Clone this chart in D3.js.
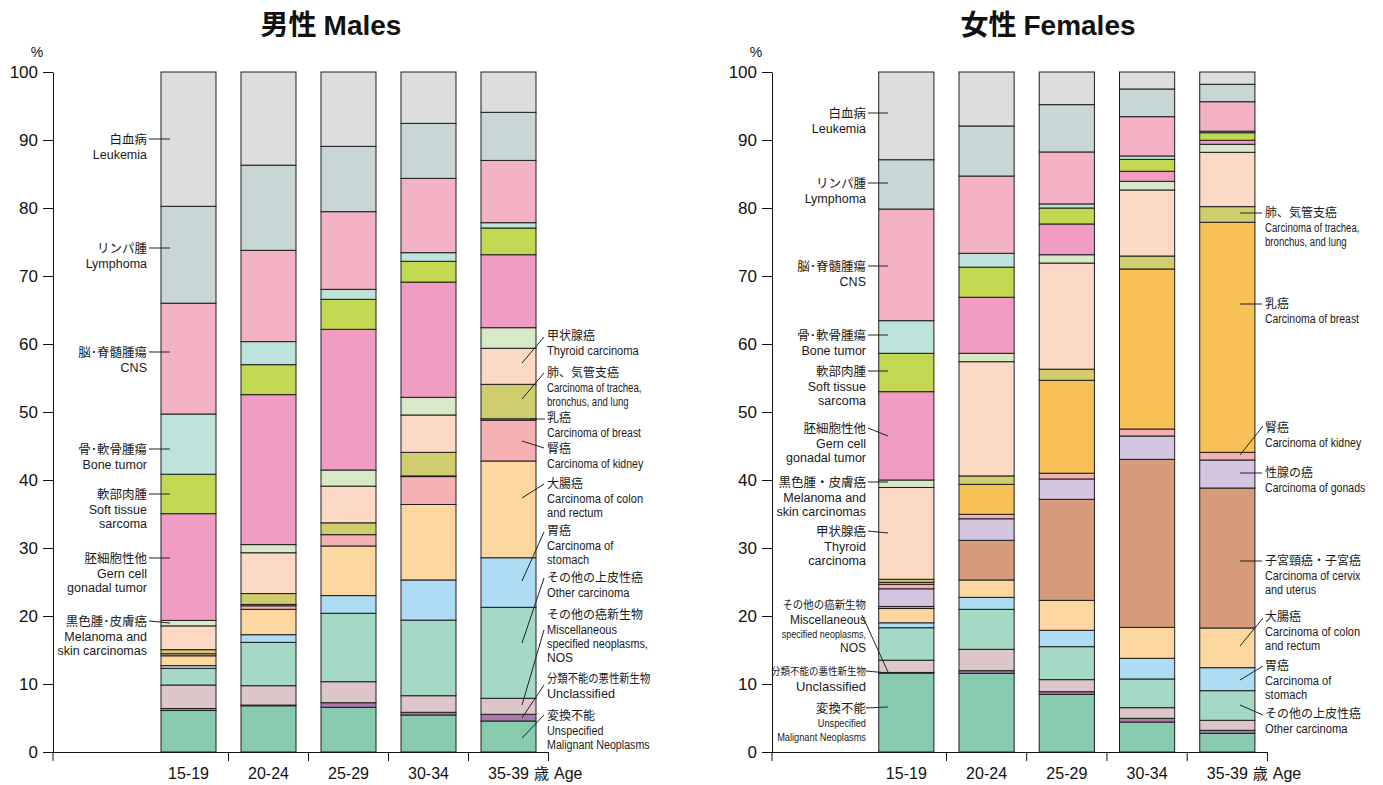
<!DOCTYPE html>
<html><head><meta charset="utf-8">
<script src="https://cdn.jsdelivr.net/npm/d3@7"></script>
<style>body{margin:0;background:#fff}svg{display:block}</style>
</head><body>
<svg id="chart" width="1383" height="785"></svg>
<script>
// ---------- DATA ----------
const categories = ["15-19", "20-24", "25-29", "30-34", "35-39"];
const yTickValues = [0, 10, 20, 30, 40, 50, 60, 70, 80, 90, 100];

// Males (% of cases, stacked bottom -> top)
const maleUnspecified     = [6.1, 6.8, 6.57, 5.44, 4.56];
const maleUnclassified    = [0.3, 0.1, 0.68, 0.4, 0.98];
const maleMisc            = [3.45, 2.85, 3.09, 2.44, 2.36];
const maleOtherCarcinoma  = [2.45, 6.38, 10.06, 11.12, 13.38];
const maleStomach         = [0.4, 1.12, 2.6, 5.9, 7.29];
const maleColon           = [1.45, 3.73, 7.3, 11.1, 14.23];
const maleKidney          = [0.3, 0.52, 1.66, 4.1, 6.0];
const maleBreast          = [0, 0.2, 0, 0.1, 0.2];
const maleLung            = [0.6, 1.6, 1.74, 3.47, 5.07];
const maleThyroid         = [3.5, 6.0, 5.4, 5.49, 5.3];
const maleMelanoma        = [0.8, 1.2, 2.37, 2.6, 3.03];
const maleGermCell        = [15.7, 22.05, 20.69, 16.94, 10.73];
const maleSoftTissue      = [5.8, 4.41, 4.41, 3.06, 3.93];
const maleBone            = [8.85, 3.39, 1.47, 1.27, 0.78];
const maleCNS             = [16.3, 13.43, 11.42, 10.93, 9.16];
const maleLymphoma        = [14.25, 12.52, 9.61, 8.09, 7.07];
const maleLeukemia        = [19.75, 13.7, 10.93, 7.55, 5.93];

// Females
const femaleUnspecified    = [11.6, 11.57, 8.48, 4.41, 2.75];
const femaleUnclassified   = [0.1, 0.39, 0.39, 0.54, 0.44];
const femaleMisc           = [1.8, 3.14, 1.77, 1.57, 1.47];
const femaleOtherCarcinoma = [4.78, 5.88, 4.85, 4.22, 4.36];
const femaleStomach        = [0.72, 1.76, 2.41, 3.04, 3.38];
const femaleColon          = [2.1, 2.56, 4.4, 4.55, 5.84];
const femaleCervix         = [0.3, 5.83, 14.86, 24.71, 20.58];
const femaleGonads         = [2.6, 3.17, 2.99, 3.43, 4.12];
const femaleKidney         = [0.66, 0.65, 0.85, 1.03, 1.13];
const femaleBreast         = [0.3, 4.41, 13.66, 23.53, 33.83];
const femaleLung           = [0.44, 1.24, 1.64, 1.91, 2.3];
const femaleThyroid        = [13.5, 16.8, 15.6, 9.71, 7.99];
const femaleMelanoma       = [1.1, 1.23, 1.23, 1.27, 1.18];
const femaleGermCell       = [12.99, 8.24, 4.52, 1.48, 0.59];
const femaleSoftTissue     = [5.64, 4.43, 2.35, 1.75, 1.11];
const femaleBone           = [4.8, 2.04, 0.6, 0.5, 0.23];
const femaleCNS            = [16.42, 11.36, 7.64, 5.78, 4.33];
const femaleLymphoma       = [7.25, 7.36, 6.96, 4.07, 2.57];
const femaleLeukemia       = [12.9, 7.94, 4.8, 2.5, 1.8];

// ---------- STYLE ----------
const keyOrder = ["unspecified","unclassified","misc","other","stomach","colon","cervix","gonads",
  "kidney","breast","lung","thyroid","melanoma","germ","soft","bone","cns","lymphoma","leukemia"];
const colors = {
  unspecified:"#88caad", unclassified:"#a979b0", misc:"#ddc6ca", other:"#a6d8c6",
  stomach:"#aedcf4", colon:"#fcd7a0", cervix:"#d59b7a", gonads:"#d4c5e0",
  kidney:"#f4b0b3", breast:"#f8c158", lung:"#cfcd6d", thyroid:"#fcd9c4",
  melanoma:"#d8e9c8", germ:"#f19dc3", soft:"#c2d852", bone:"#bee3da",
  cns:"#f4b3c5", lymphoma:"#c9d6d6", leukemia:"#dcdddc"
};

const maleSeries = {unspecified:maleUnspecified, unclassified:maleUnclassified, misc:maleMisc,
  other:maleOtherCarcinoma, stomach:maleStomach, colon:maleColon, kidney:maleKidney, breast:maleBreast,
  lung:maleLung, thyroid:maleThyroid, melanoma:maleMelanoma, germ:maleGermCell, soft:maleSoftTissue,
  bone:maleBone, cns:maleCNS, lymphoma:maleLymphoma, leukemia:maleLeukemia};
const femaleSeries = {unspecified:femaleUnspecified, unclassified:femaleUnclassified, misc:femaleMisc,
  other:femaleOtherCarcinoma, stomach:femaleStomach, colon:femaleColon, cervix:femaleCervix,
  gonads:femaleGonads, kidney:femaleKidney, breast:femaleBreast, lung:femaleLung, thyroid:femaleThyroid,
  melanoma:femaleMelanoma, germ:femaleGermCell, soft:femaleSoftTissue, bone:femaleBone, cns:femaleCNS,
  lymphoma:femaleLymphoma, leukemia:femaleLeukemia};

const LAT = "'Liberation Sans', Arial, Helvetica, sans-serif";
const JP = "'Noto Sans CJK JP', 'Noto Sans CJK SC', sans-serif";

// ---------- LABEL LAYOUT ----------
const maleLeft = [
  {y:139, lines:["白血病","Leukemia"], path:[[149,139],[170,139]]},
  {y:248, lines:["リンパ腫","Lymphoma"], path:[[149,248],[170,248]]},
  {y:352, lines:["脳･脊髄腫瘍","CNS"], path:[[149,352],[170,352]]},
  {y:449, lines:["骨･軟骨腫瘍","Bone tumor"], path:[[149,449],[170,449]]},
  {y:494, lines:["軟部肉腫","Soft tissue","sarcoma"], path:[[149,494],[170,494]]},
  {y:558, lines:["胚細胞性他","Gern cell","gonadal tumor"], path:[[149,558],[170,558]]},
  {y:621, lines:["黒色腫･皮膚癌","Melanoma and","skin carcinomas"], path:[[149,621],[170,623]]}
];
const maleRight = [
  {y:336, lines:["甲状腺癌","Thyroid carcinoma"], path:[[522,363],[544,337]]},
  {y:373, lines:[" 肺、気管支癌","Carcinoma of trachea,","bronchus, and lung"], sq:[1,0.8,0.8], path:[[522,399],[544,373]]},
  {y:418, lines:["乳癌","Carcinoma of breast"], sq:[1,0.87], path:[[530,419],[545,419]]},
  {y:449, lines:["腎癌","Carcinoma of kidney"], sq:[1,0.88], path:[[522,441],[544,448]]},
  {y:484, lines:["大腸癌","Carcinoma of colon","and rectum"], path:[[522,498],[544,484]]},
  {y:531, lines:["胃癌","Carcinoma of","stomach"], path:[[522,581],[544,532]]},
  {y:578, lines:["その他の上皮性癌","Other carcinoma"], path:[[522,643],[544,578]]},
  {y:615, lines:["その他の癌新生物","Miscellaneous","specified neoplasms,","NOS"], sq:[1,0.92,0.9,1], path:[[522,705],[544,630]]},
  {y:679, lines:["分類不能の悪性新生物","Unclassified"], sq:[0.86,1.05], path:[[522,718],[544,685]]},
  {y:716, lines:["変換不能","Unspecified","Malignant Neoplasms"], sq:[1,0.9,0.89], path:[[522,738],[544,715]]}
];
const femaleLeft = [
  {y:113, lines:["白血病","Leukemia"], path:[[868,113],[888,113]]},
  {y:183, lines:["リンパ腫","Lymphoma"], path:[[868,183],[888,183]]},
  {y:266, lines:["脳･脊髄腫瘍","CNS"], path:[[868,266],[888,266]]},
  {y:335, lines:["骨･軟骨腫瘍","Bone tumor"], path:[[868,335],[888,335]]},
  {y:371, lines:["軟部肉腫","Soft tissue","sarcoma"], path:[[868,371],[888,371]]},
  {y:428, lines:["胚細胞性他","Gern cell","gonadal tumor"], path:[[868,428],[888,436]]},
  {y:482, lines:["黒色腫・皮膚癌","Melanoma and","skin carcinomas"], path:[[868,482],[888,482]]},
  {y:531, lines:["甲状腺癌","Thyroid","carcinoma"], path:[[868,531],[888,533]]},
  {y:605, lines:["その他の癌新生物","Miscellaneous","specified neoplasms,","NOS"], fs:[11,12,11,12], sq:[0.95,1,0.82,1], path:[[862,615],[888,672]]},
  {y:671, lines:["分類不能の悪性新生物","Unclassified"], fs:[10,13], sq:[0.95,1], path:[[866,671],[888,673]]},
  {y:708, lines:["変換不能","Unspecified","Malignant Neoplasms"], fs:[12.5,10.5,10.5], sq:[1,0.88,0.88], path:[[866,708],[888,707]]}
];
const femaleRight = [
  {y:213, lines:[" 肺、気管支癌","Carcinoma of trachea,","bronchus, and lung"], sq:[1,0.8,0.8], path:[[1240,213],[1262,213]]},
  {y:304, lines:["乳癌","Carcinoma of breast"], sq:[1,0.87], path:[[1240,304],[1262,304]]},
  {y:428, lines:["腎癌","Carcinoma of kidney"], sq:[1,0.88], path:[[1240,455],[1263,426]]},
  {y:473, lines:["性腺の癌","Carcinoma of gonads"], sq:[1,0.88], path:[[1240,473],[1262,473]]},
  {y:561, lines:["子宮頸癌・子宮癌","Carcinoma of cervix","and uterus"], sq:[1,0.9,0.9], path:[[1240,561],[1262,561]]},
  {y:617, lines:["大腸癌","Carcinoma of colon","and rectum"], sq:[1,0.92,0.92], path:[[1240,646],[1263,618]]},
  {y:666, lines:["胃癌","Carcinoma of","stomach"], path:[[1240,680],[1263,666]]},
  {y:714, lines:["その他の上皮性癌","Other carcinoma"], path:[[1240,705],[1263,715]]}
];

// ---------- DRAW ----------
const svg = d3.select("#chart");
const y = d3.scaleLinear().domain([0, 100]).range([752, 72]);

function drawPanel(cfg) {
  const g = svg.append("g");
  const keys = keyOrder.filter(k => cfg.series[k]);
  const table = categories.map((c, i) => {
    const row = {cat: c};
    keys.forEach(k => row[k] = cfg.series[k][i]);
    return row;
  });
  const x = d3.scaleBand().domain(categories).range(cfg.range)
    .paddingInner(0.3125).paddingOuter(0.15625);
  const stacked = d3.stack().keys(keys)(table);

  g.selectAll("g.layer").data(stacked).join("g").attr("class","layer")
    .attr("fill", d => colors[d.key])
    .selectAll("rect").data(d => d.filter(s => s[1] - s[0] > 0)).join("rect")
    .attr("x", d => x(d.data.cat))
    .attr("y", d => y(d[1]))
    .attr("width", x.bandwidth())
    .attr("height", d => y(d[0]) - y(d[1]))
    .attr("stroke", "#1e1e1e").attr("stroke-width", 1);

  // y axis
  const ya = g.append("g").attr("transform", `translate(${cfg.axisX},0)`)
    .call(d3.axisLeft(y).tickValues(yTickValues).tickSize(10).tickSizeOuter(0).tickPadding(5));
  ya.select(".domain").attr("stroke", "#111");
  ya.selectAll(".tick line").attr("stroke", "#111");
  ya.selectAll(".tick text").attr("font-family", LAT).attr("font-size", 17).attr("fill", "#111");
  g.append("text").attr("x", cfg.axisX - 16).attr("y", 57).attr("text-anchor", "middle")
    .attr("font-family", LAT).attr("font-size", 14).attr("fill", "#111").text("%");

  // x axis (ticks at category boundaries)
  const half = (x.step() - x.bandwidth()) / 2;
  const bounds = [cfg.axisX].concat(categories.map(c => x(c) + x.bandwidth() + half));
  g.append("line").attr("x1", cfg.axisX).attr("x2", bounds[bounds.length - 1])
    .attr("y1", 752.5).attr("y2", 752.5).attr("stroke", "#111");
  g.selectAll("line.xt").data(bounds).join("line").attr("class","xt")
    .attr("x1", d => d).attr("x2", d => d).attr("y1", 752).attr("y2", 761).attr("stroke", "#111");
  const last = categories[categories.length - 1];
  g.selectAll("text.xl").data(categories).join("text").attr("class","xl")
    .attr("x", d => x(d) + x.bandwidth() / 2).attr("y", 779)
    .attr("font-family", LAT).attr("font-size", 16).attr("fill", "#111")
    .each(function(d) {
      const t = d3.select(this);
      if (d !== last) { t.attr("text-anchor", "middle").text(d); return; }
      t.attr("text-anchor", "start");
      t.append("tspan").text(d);
      t.append("tspan").attr("dx", 5).attr("font-family", JP).attr("font-size", 15).text("歳");
      t.append("tspan").attr("dx", 5).text("Age");
      const w = this.getSubStringLength(0, d.length);
      t.attr("x", x(d) + x.bandwidth() / 2 - w / 2);
    });

  // title
  const t = svg.append("text").attr("x", cfg.titleX).attr("y", 35).attr("text-anchor", "middle")
    .attr("font-weight", "bold").attr("font-size", 28).attr("fill", "#111");
  t.append("tspan").attr("font-family", JP).text(cfg.titleJP);
  t.append("tspan").attr("font-family", LAT).attr("dx", 7).text(cfg.titleEN);

  drawLabels(g, cfg.left, "end", cfg.leftX, 12.5, 12.5);
  drawLabels(g, cfg.right, "start", cfg.rightX, 12, 12);
}

function drawLabels(g, specs, anchor, lx, jpSize, enSize) {
  specs.forEach(s => {
    g.append("line").attr("x1", s.path[0][0]).attr("y1", s.path[0][1])
      .attr("x2", s.path[1][0]).attr("y2", s.path[1][1])
      .attr("stroke", "#222").attr("stroke-width", 1);
    let yy = s.y;
    s.lines.forEach((ln, i) => {
      const isJP = i === 0;
      const fs = s.fs ? s.fs[i] : (isJP ? jpSize : enSize);
      if (i === 1) yy += 15; else if (i > 1) yy += 14;
      const tx = g.append("text").attr("x", lx).attr("y", yy + fs * 0.36)
        .attr("text-anchor", anchor).attr("font-family", isJP ? JP : LAT)
        .attr("font-size", fs).attr("fill", "#1a1a1a").text(ln);
      const sq = s.sq ? s.sq[i] : (anchor === "start" && !isJP ? 0.93 : 1);
      if (sq !== 1) {
        const w = tx.node().getComputedTextLength();
        tx.attr("textLength", w * sq).attr("lengthAdjust", "spacingAndGlyphs");
      }
    });
  });
}

drawPanel({series: maleSeries, range: [148.5, 548.5], axisX: 53, titleX: 331,
  titleJP: "男性", titleEN: "Males", left: maleLeft, right: maleRight, leftX: 147, rightX: 547});
drawPanel({series: femaleSeries, range: [866.2, 1267.45], axisX: 772, titleX: 1048,
  titleJP: "女性", titleEN: "Females", left: femaleLeft, right: femaleRight, leftX: 866, rightX: 1265});
</script>
</body></html>
